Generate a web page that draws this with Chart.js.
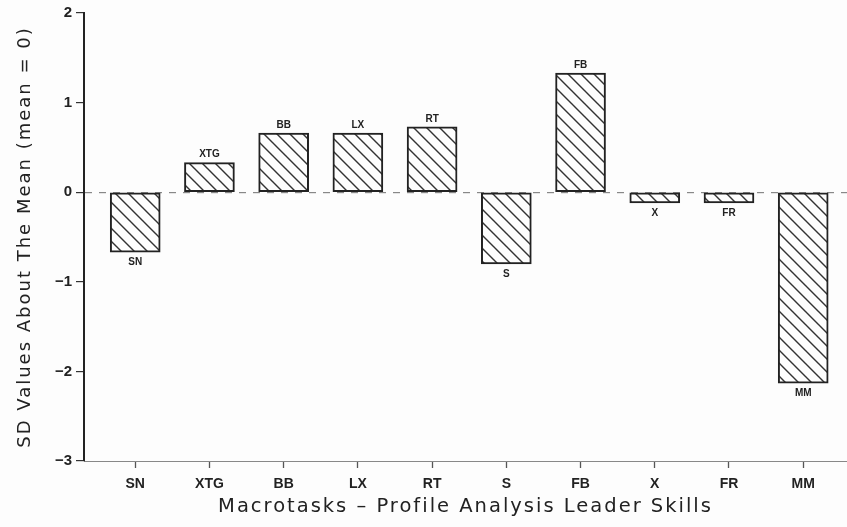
<!DOCTYPE html>
<html>
<head>
<meta charset="utf-8">
<script src="https://cdn.jsdelivr.net/npm/chart.js@4/dist/chart.umd.min.js"></script>
<style>
  html, body { margin: 0; padding: 0; background: #fdfdfd; }
  #wrap { width: 847px; height: 527px; }
</style>
</head>
<body>
<div id="wrap"><canvas id="c" width="847" height="527"></canvas></div>
<script>
const categories = ["SN", "XTG", "BB", "LX", "RT", "S", "FB", "X", "FR", "MM"];
const sdValues = [-0.67, 0.33, 0.66, 0.66, 0.73, -0.80, 1.33, -0.12, -0.12, -2.13];
const yTickValues = [-3, -2, -1, 0, 1, 2];
const xTitle = "Macrotasks \u2013 Profile Analysis Leader Skills";
const yTitle = "SD Values About The Mean (mean = 0)";

function hatch() {
  const s = 13;
  const p = document.createElement('canvas');
  p.width = s; p.height = s;
  const g = p.getContext('2d');
  g.fillStyle = '#fdfdfd';
  g.fillRect(0, 0, s, s);
  g.strokeStyle = '#333';
  g.lineWidth = 1.4;
  g.beginPath();
  g.moveTo(-2, -2); g.lineTo(s + 2, s + 2);
  g.moveTo(-2, s - 2); g.lineTo(2, s + 2);
  g.moveTo(s - 2, -2); g.lineTo(s + 2, 2);
  g.stroke();
  return g.createPattern(p, 'repeat');
}

// wide letter spacing for the axis titles (drawn in the grid layer), normal afterwards
const spacing = {
  id: 'spacing',
  beforeDraw(chart) { chart.ctx.letterSpacing = '2px'; },
  beforeDatasetsDraw(chart) { chart.ctx.letterSpacing = '0px'; }
};

const barLabels = {
  id: 'barLabels',
  afterDatasetsDraw(chart) {
    const ctx = chart.ctx;
    const meta = chart.getDatasetMeta(0);
    ctx.save();
    ctx.font = 'bold 10px "Liberation Sans", Arial, sans-serif';
    ctx.fillStyle = '#222';
    ctx.textAlign = 'center';
    ctx.textBaseline = 'middle';
    meta.data.forEach((bar, i) => {
      const v = sdValues[i];
      const y = v >= 0 ? bar.y - 8 : bar.y + 10;
      ctx.fillText(categories[i], bar.x, y);
    });
    ctx.restore();
  }
};

new Chart(document.getElementById('c'), {
  type: 'bar',
  data: {
    datasets: [{
      data: sdValues.map((v, i) => ({ x: i, y: v })),
      backgroundColor: hatch(),
      borderColor: '#222',
      borderWidth: 2,
      borderSkipped: false,
      barThickness: 50
    }]
  },
  options: {
    responsive: false,
    animation: false,
    layout: { padding: { top: 12, right: 0, bottom: 0, left: 0 } },
    plugins: { legend: { display: false }, tooltip: { enabled: false } },
    scales: {
      x: {
        type: 'linear',
        offset: false,
        min: -0.69,
        max: 9.59,
        afterBuildTicks: (s) => { s.ticks = categories.map((_, i) => ({ value: i })); },
        afterFit: (s) => { s.height = 66; },
        ticks: {
          callback: (v) => categories[v] ?? '',
          font: { family: '"Liberation Sans", Arial, sans-serif', size: 14, weight: 'bold' },
          color: '#222',
          padding: 8,
          maxRotation: 0,
          autoSkip: false,
          z: 1
        },
        grid: { offset: false, drawOnChartArea: false, drawTicks: true, tickLength: 7, tickColor: '#555', tickWidth: 1.3 },
        border: { display: true, color: '#888', width: 1 },
        title: {
          display: true,
          text: xTitle,
          font: { family: '"DejaVu Sans", sans-serif', size: 19.5 },
          color: '#222',
          padding: { top: 0, bottom: 8 }
        }
      },
      y: {
        min: -3,
        max: 2,
        afterBuildTicks: (s) => { s.ticks = yTickValues.map(v => ({ value: v })); },
        afterFit: (s) => { s.width = 84; },
        ticks: {
          callback: (v) => v < 0 ? '\u2212' + Math.abs(v) : String(v),
          font: { family: '"Liberation Sans", Arial, sans-serif', size: 15, weight: 'bold' },
          color: '#222',
          padding: 4,
          z: 1
        },
        grid: {
          drawOnChartArea: true,
          color: (c) => (c.tick && c.tick.value === 0) ? '#888' : 'rgba(0,0,0,0)',
          lineWidth: 1.2,
          tickLength: 8,
          tickColor: '#333',
          tickWidth: 1.2
        },
        border: { display: true, color: '#222', width: 2, dash: [7, 7] },
        title: {
          display: true,
          text: yTitle,
          font: { family: '"DejaVu Sans", sans-serif', size: 18 },
          color: '#222',
          padding: { top: 15, bottom: 0 }
        }
      }
    }
  },
  plugins: [spacing, barLabels]
});
</script>
</body>
</html>
